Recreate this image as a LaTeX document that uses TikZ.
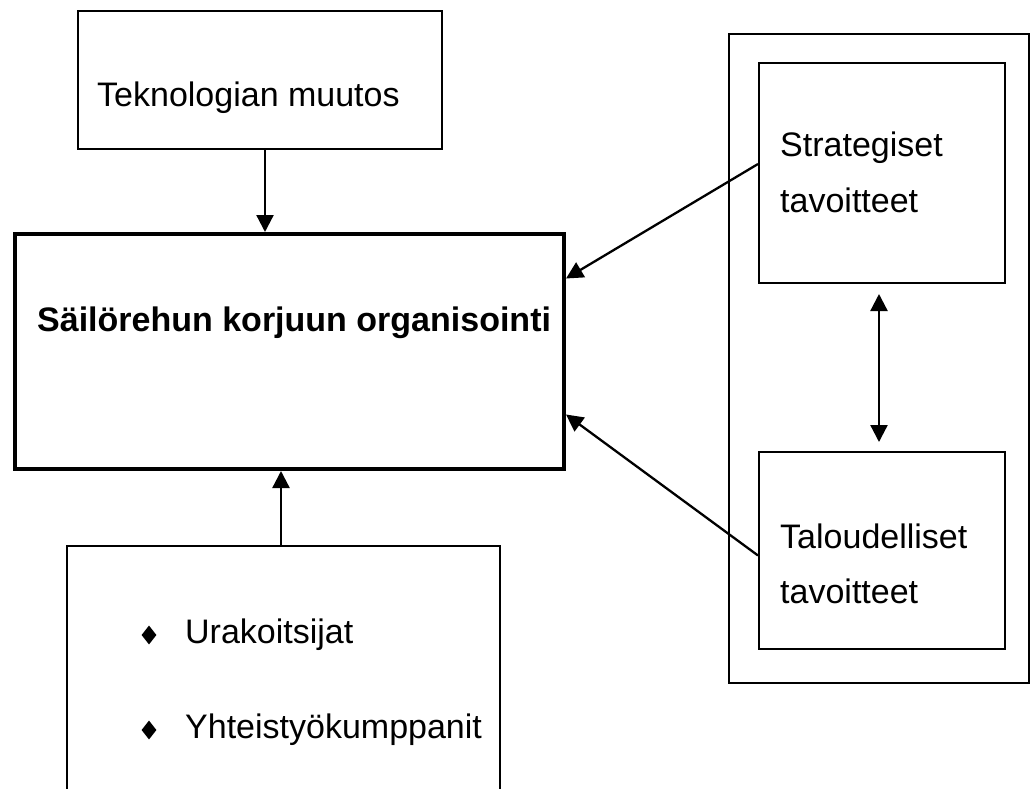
\documentclass[tikz,border=0pt]{standalone}
\usepackage{fontspec}
\setmainfont{Liberation Sans}
\usetikzlibrary{arrows.meta,shapes.geometric,calc}
\tikzset{
  box/.style={draw, line width=2pt, inner sep=0pt, anchor=north west},
  mainbox/.style={draw, line width=4pt, inner sep=0pt, anchor=north west},
  lbl/.style={anchor=base west, inner sep=0pt, font=\fontsize{34}{40}\selectfont},
  arr/.style={line width=2.3pt, -{Triangle[length=17pt,width=17pt]}},
  darr/.style={line width=2.3pt, {Triangle[length=17pt,width=17pt]}-{Triangle[length=17pt,width=17pt]}},
  bul/.style={diamond, fill=black, inner sep=0pt, minimum width=15pt, minimum height=19pt}
}
\begin{document}
\begin{tikzpicture}[x=1pt,y=-1pt]
\useasboundingbox[fill=white] (0,0) rectangle (1036,789);
% boxes
\node[box, minimum width=364pt, minimum height=138pt] (tek) at (77,10) {};
\node[mainbox, minimum width=549pt, minimum height=235pt] (main) at (13,232) {};
\node[box, minimum width=300pt, minimum height=649pt] (outer) at (728,33) {};
\node[box, minimum width=246pt, minimum height=220pt] (strat) at (758,62) {};
\node[box, minimum width=246pt, minimum height=197pt] (tal) at (758,451) {};
\draw[line width=2pt] (67,800) -- (67,546) -- (500,546) -- (500,800);
\coordinate (botTop) at (281,546);
% texts
\node[lbl] (t1) at (97,107) {Teknologian muutos};
\node[lbl, font=\fontsize{34}{40}\selectfont\bfseries] (t2) at (37,331) {Säilörehun korjuun organisointi};
\node[lbl] (t3) at (780,157) {Strategiset};
\node[lbl] (t4) at (780,212) {tavoitteet};
\node[lbl] (t5) at (780,548) {Taloudelliset};
\node[lbl] (t6) at (780,603) {tavoitteet};
\node[bul] (b1) at (149,635) {};
\node[lbl] (t7) at (185,643) {Urakoitsijat};
\node[bul] (b2) at (149,730) {};
\node[lbl] (t8) at (185,738) {Yhteistyökumppanit};
% connectors
\draw[arr] ([xshift=5pt]tek.south) -- ([xshift=5pt]tek.south |- main.north);
\draw[arr] (botTop) -- (botTop |- main.south);
\draw[arr] ([yshift=9pt]strat.west) -- ([yshift=73pt]main.east);
\draw[arr] ([yshift=-5pt]tal.west) -- ([yshift=-63pt]main.east);
\draw[darr, shorten <=10pt, shorten >=9pt] ([xshift=-3pt]strat.south) -- ([xshift=-3pt]tal.north);
\end{tikzpicture}
\end{document}
